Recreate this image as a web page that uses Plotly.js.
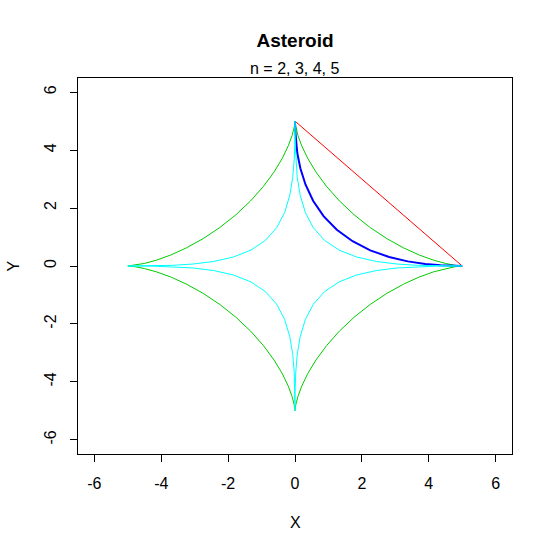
<!DOCTYPE html>
<html>
<head>
<meta charset="utf-8">
<script src="https://cdn.plot.ly/plotly-3.0.1.min.js"></script>
<style>html,body{margin:0;padding:0;background:#fff;}#chart{width:552px;height:552px;}</style>
</head>
<body>
<div id="chart"></div>
<script>
// n = 2 (red), first quadrant only
var n2X = [5, 3.75, 2.5, 1.25, 0];
var n2Y = [0, 1.25, 2.5, 3.75, 5];

// n = 3 (green), full curve
var n3X = [5, 4.943, 4.776, 4.506, 4.149, 3.722, 3.248, 2.748, 2.248, 1.768, 1.328, 0.944, 0.625, 0.377, 0.200, 0.087, 0.026, 0.003, 0,
  -0.003, -0.026, -0.087, -0.200, -0.377, -0.625, -0.944, -1.328, -1.768, -2.248, -2.748, -3.248, -3.722, -4.149, -4.506, -4.776, -4.943, -5,
  -4.943, -4.776, -4.506, -4.149, -3.722, -3.248, -2.748, -2.248, -1.768, -1.328, -0.944, -0.625, -0.377, -0.200, -0.087, -0.026, -0.003, 0,
  0.003, 0.026, 0.087, 0.200, 0.377, 0.625, 0.944, 1.328, 1.768, 2.248, 2.748, 3.248, 3.722, 4.149, 4.506, 4.776, 4.943, 5];
var n3Y = [0, 0.003, 0.026, 0.087, 0.200, 0.377, 0.625, 0.944, 1.328, 1.768, 2.248, 2.748, 3.248, 3.722, 4.149, 4.506, 4.776, 4.943, 5,
  4.943, 4.776, 4.506, 4.149, 3.722, 3.248, 2.748, 2.248, 1.768, 1.328, 0.944, 0.625, 0.377, 0.200, 0.087, 0.026, 0.003, 0,
  -0.003, -0.026, -0.087, -0.200, -0.377, -0.625, -0.944, -1.328, -1.768, -2.248, -2.748, -3.248, -3.722, -4.149, -4.506, -4.776, -4.943, -5,
  -4.943, -4.776, -4.506, -4.149, -3.722, -3.248, -2.748, -2.248, -1.768, -1.328, -0.944, -0.625, -0.377, -0.200, -0.087, -0.026, -0.003, 0];

// n = 4 (blue), first quadrant only
var n4X = [5, 4.924, 4.703, 4.353, 3.899, 3.373, 2.813, 2.251, 1.722, 1.25, 0.854, 0.541, 0.313, 0.160, 0.068, 0.022, 0.005, 0, 0];
var n4Y = [0, 0, 0.005, 0.022, 0.068, 0.160, 0.313, 0.541, 0.854, 1.25, 1.722, 2.251, 2.813, 3.373, 3.899, 4.353, 4.703, 4.924, 5];

// n = 5 (cyan), full curve
var n5X = [5, 4.906, 4.632, 4.204, 3.664, 3.057, 2.436, 1.844, 1.319, 0.884, 0.549, 0.310, 0.156, 0.067, 0.023, 0.006, 0.001, 0, 0,
  0, -0.001, -0.006, -0.023, -0.067, -0.156, -0.310, -0.549, -0.884, -1.319, -1.844, -2.436, -3.057, -3.664, -4.204, -4.632, -4.906, -5,
  -4.906, -4.632, -4.204, -3.664, -3.057, -2.436, -1.844, -1.319, -0.884, -0.549, -0.310, -0.156, -0.067, -0.023, -0.006, -0.001, 0, 0,
  0, 0.001, 0.006, 0.023, 0.067, 0.156, 0.310, 0.549, 0.884, 1.319, 1.844, 2.436, 3.057, 3.664, 4.204, 4.632, 4.906, 5];
var n5Y = [0, 0, 0.001, 0.006, 0.023, 0.067, 0.156, 0.310, 0.549, 0.884, 1.319, 1.844, 2.436, 3.057, 3.664, 4.204, 4.632, 4.906, 5,
  4.906, 4.632, 4.204, 3.664, 3.057, 2.436, 1.844, 1.319, 0.884, 0.549, 0.310, 0.156, 0.067, 0.023, 0.006, 0.001, 0, 0,
  0, -0.001, -0.006, -0.023, -0.067, -0.156, -0.310, -0.549, -0.884, -1.319, -1.844, -2.436, -3.057, -3.664, -4.204, -4.632, -4.906, -5,
  -4.906, -4.632, -4.204, -3.664, -3.057, -2.436, -1.844, -1.319, -0.884, -0.549, -0.310, -0.156, -0.067, -0.023, -0.006, -0.001, 0, 0];

var tickVals = [-6, -4, -2, 0, 2, 4, 6];
var tickText = ["-6", "-4", "-2", "0", "2", "4", "6"];

var font = "Liberation Sans, Arial, sans-serif";

var traces = [
  {x: n2X, y: n2Y, mode: "lines", line: {color: "#FF0000", width: 1}},
  {x: n3X, y: n3Y, mode: "lines", line: {color: "#00CD00", width: 1}},
  {x: n4X, y: n4Y, mode: "lines", line: {color: "#0000FF", width: 2}},
  {x: n5X, y: n5Y, mode: "lines", line: {color: "#00FFFF", width: 1}}
];

var axisCommon = {
  range: [-6.49, 6.49],
  tickvals: tickVals,
  ticktext: tickText,
  ticks: "outside",
  ticklen: 7,
  tickwidth: 1,
  tickcolor: "#000",
  showgrid: false,
  zeroline: false,
  showline: true,
  linecolor: "#000",
  linewidth: 1,
  mirror: true,
  tickfont: {family: font, size: 16, color: "#000"}
};

var layout = {
  width: 552,
  height: 552,
  margin: {l: 78, r: 40, t: 78, b: 98},
  paper_bgcolor: "#fff",
  plot_bgcolor: "#fff",
  showlegend: false,
  title: {
    text: "<b>Asteroid</b>",
    font: {family: font, size: 19, color: "#000"},
    x: 0.5345, xanchor: "center",
    y: 1 - 40 / 552, yref: "container", yanchor: "middle"
  },
  xaxis: Object.assign({}, axisCommon, {ticklabelstandoff: 8}),
  yaxis: Object.assign({}, axisCommon, {tickangle: -90, ticklabelstandoff: 8}),
  annotations: [
    {text: "n = 2, 3, 4, 5", xref: "paper", yref: "paper", x: 0.5, y: (454 - 69) / 376,
     xanchor: "center", yanchor: "middle", showarrow: false, font: {family: font, size: 16, color: "#000"}},
    {text: "X", xref: "paper", yref: "paper", x: 0.5, y: (454 - 522) / 376,
     xanchor: "center", yanchor: "middle", showarrow: false, font: {family: font, size: 16, color: "#000"}},
    {text: "Y", xref: "paper", yref: "paper", x: (12.5 - 78) / 434, y: 0.5, textangle: -90,
     xanchor: "center", yanchor: "middle", showarrow: false, font: {family: font, size: 16, color: "#000"}}
  ]
};

Plotly.newPlot("chart", traces, layout, {displayModeBar: false, staticPlot: true});
</script>
</body>
</html>
